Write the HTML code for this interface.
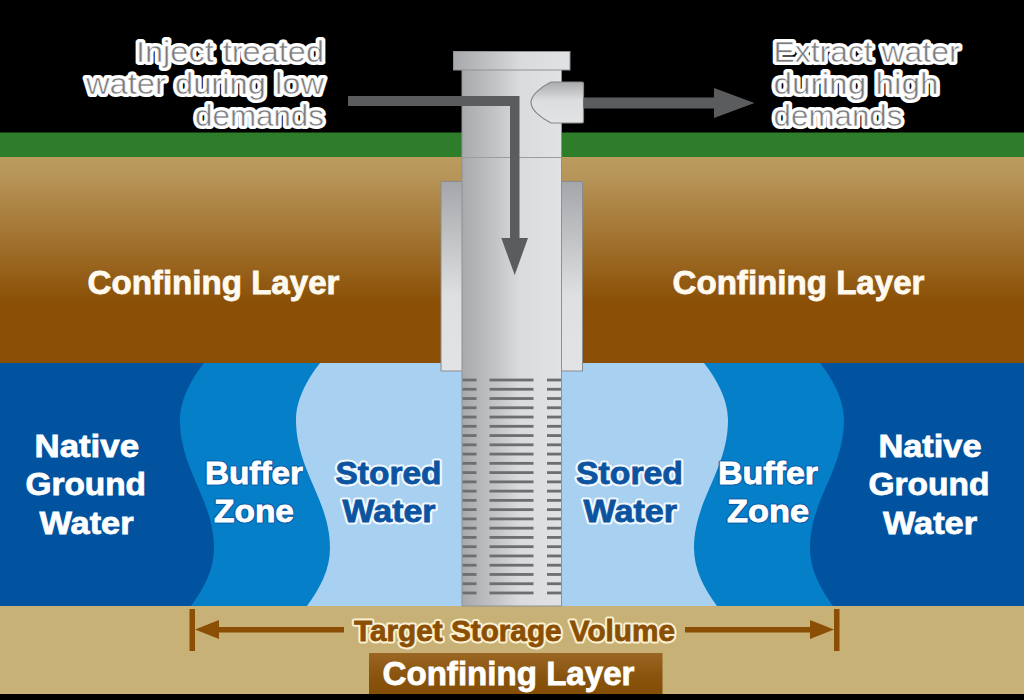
<!DOCTYPE html>
<html>
<head>
<meta charset="utf-8">
<title>Aquifer Storage and Recovery</title>
<style>
html,body{margin:0;padding:0;background:#000;}
body{width:1024px;height:700px;overflow:hidden;font-family:"Liberation Sans",sans-serif;}
svg{display:block;}
text{font-family:"Liberation Sans",sans-serif;}
.b{font-weight:bold;}
</style>
</head>
<body>
<svg width="1024" height="700" viewBox="0 0 1024 700">
<defs>
<linearGradient id="soil" x1="0" y1="0" x2="0" y2="1">
<stop offset="0" stop-color="#bb9b5e"/>
<stop offset="0.08" stop-color="#b8965a"/>
<stop offset="0.7" stop-color="#8b5006"/>
<stop offset="1" stop-color="#8a4f04"/>
</linearGradient>
<linearGradient id="pipe" x1="0" y1="0" x2="1" y2="0">
<stop offset="0" stop-color="#a7a9ac"/>
<stop offset="0.15" stop-color="#b3b5b7"/>
<stop offset="0.35" stop-color="#c4c5c7"/>
<stop offset="0.58" stop-color="#dadbdc"/>
<stop offset="1" stop-color="#e1e2e3"/>
</linearGradient>
<linearGradient id="casing" x1="0" y1="0" x2="0" y2="1">
<stop offset="0" stop-color="#a4a6a9"/>
<stop offset="0.6" stop-color="#dedfe0"/>
<stop offset="1" stop-color="#e2e3e4"/>
</linearGradient>
<linearGradient id="outlet" x1="0" y1="0" x2="0" y2="1">
<stop offset="0" stop-color="#a9abae"/>
<stop offset="0.45" stop-color="#dcddde"/>
<stop offset="1" stop-color="#e2e3e4"/>
</linearGradient>
<linearGradient id="clbox" x1="0" y1="0" x2="0" y2="1">
<stop offset="0" stop-color="#9a6622"/>
<stop offset="0.6" stop-color="#88530c"/>
<stop offset="1" stop-color="#844e07"/>
</linearGradient>
</defs>
<rect x="0" y="0" width="1024" height="700" fill="#000"/>
<!-- grass -->
<rect x="0" y="132.500" width="1024" height="25" fill="#2e7d2b"/>
<!-- soil -->
<rect x="0" y="157" width="1024" height="207" fill="url(#soil)"/>
<!-- water -->
<rect x="0" y="363" width="1024" height="243" fill="#02539f"/>
<!-- buffer zones -->
<path d="M204,363 C193,377 180,398 180,420 C180,470 214,500 214,548 C214,570 204,588 191,606 L833,606 C820,588 810,570 810,548 C810,500 844,470 844,420 C844,398 831,377 820,363 Z" fill="#047fc8"/>
<!-- stored water -->
<path d="M320,363 C309,377 296,398 296,420 C296,470 330,500 330,548 C330,570 320,588 307,606 L717,606 C704,588 694,570 694,548 C694,500 728,470 728,420 C728,398 715,377 704,363 Z" fill="#a8d1f1"/>
<!-- bottom layer -->
<rect x="0" y="606" width="1024" height="88" fill="#c8b177"/>
<rect x="0" y="694" width="1024" height="6" fill="#000"/>

<!-- casing -->
<rect x="441" y="181.500" width="141.500" height="189.500" fill="url(#casing)" stroke="#8a8c8f" stroke-width="1"/>
<!-- main pipe -->
<rect x="462" y="60" width="99.500" height="546" fill="url(#pipe)" stroke="#8f9194" stroke-width="1"/>
<line x1="462" y1="157.500" x2="561.500" y2="157.500" stroke="#9a9c9f" stroke-width="1"/>
<!-- cap -->
<rect x="453.500" y="51.500" width="116.500" height="18.500" fill="url(#pipe)" stroke="#8f9194" stroke-width="1"/>
<!-- slots -->
<g fill="#6d6e71">
<rect x="462.5" y="378.60" width="14" height="2.800"/>
<rect x="489.5" y="378.60" width="44" height="2.800"/>
<rect x="547" y="378.60" width="14" height="2.800"/>
<rect x="462.5" y="387.86" width="14" height="2.800"/>
<rect x="489.5" y="387.86" width="44" height="2.800"/>
<rect x="547" y="387.86" width="14" height="2.800"/>
<rect x="462.5" y="397.12" width="14" height="2.800"/>
<rect x="489.5" y="397.12" width="44" height="2.800"/>
<rect x="547" y="397.12" width="14" height="2.800"/>
<rect x="462.5" y="406.38" width="14" height="2.800"/>
<rect x="489.5" y="406.38" width="44" height="2.800"/>
<rect x="547" y="406.38" width="14" height="2.800"/>
<rect x="462.5" y="415.64" width="14" height="2.800"/>
<rect x="489.5" y="415.64" width="44" height="2.800"/>
<rect x="547" y="415.64" width="14" height="2.800"/>
<rect x="462.5" y="424.90" width="14" height="2.800"/>
<rect x="489.5" y="424.90" width="44" height="2.800"/>
<rect x="547" y="424.90" width="14" height="2.800"/>
<rect x="462.5" y="434.16" width="14" height="2.800"/>
<rect x="489.5" y="434.16" width="44" height="2.800"/>
<rect x="547" y="434.16" width="14" height="2.800"/>
<rect x="462.5" y="443.42" width="14" height="2.800"/>
<rect x="489.5" y="443.42" width="44" height="2.800"/>
<rect x="547" y="443.42" width="14" height="2.800"/>
<rect x="462.5" y="452.68" width="14" height="2.800"/>
<rect x="489.5" y="452.68" width="44" height="2.800"/>
<rect x="547" y="452.68" width="14" height="2.800"/>
<rect x="462.5" y="461.94" width="14" height="2.800"/>
<rect x="489.5" y="461.94" width="44" height="2.800"/>
<rect x="547" y="461.94" width="14" height="2.800"/>
<rect x="462.5" y="471.20" width="14" height="2.800"/>
<rect x="489.5" y="471.20" width="44" height="2.800"/>
<rect x="547" y="471.20" width="14" height="2.800"/>
<rect x="462.5" y="480.46" width="14" height="2.800"/>
<rect x="489.5" y="480.46" width="44" height="2.800"/>
<rect x="547" y="480.46" width="14" height="2.800"/>
<rect x="462.5" y="489.72" width="14" height="2.800"/>
<rect x="489.5" y="489.72" width="44" height="2.800"/>
<rect x="547" y="489.72" width="14" height="2.800"/>
<rect x="462.5" y="498.98" width="14" height="2.800"/>
<rect x="489.5" y="498.98" width="44" height="2.800"/>
<rect x="547" y="498.98" width="14" height="2.800"/>
<rect x="462.5" y="508.24" width="14" height="2.800"/>
<rect x="489.5" y="508.24" width="44" height="2.800"/>
<rect x="547" y="508.24" width="14" height="2.800"/>
<rect x="462.5" y="517.50" width="14" height="2.800"/>
<rect x="489.5" y="517.50" width="44" height="2.800"/>
<rect x="547" y="517.50" width="14" height="2.800"/>
<rect x="462.5" y="526.76" width="14" height="2.800"/>
<rect x="489.5" y="526.76" width="44" height="2.800"/>
<rect x="547" y="526.76" width="14" height="2.800"/>
<rect x="462.5" y="536.02" width="14" height="2.800"/>
<rect x="489.5" y="536.02" width="44" height="2.800"/>
<rect x="547" y="536.02" width="14" height="2.800"/>
<rect x="462.5" y="545.28" width="14" height="2.800"/>
<rect x="489.5" y="545.28" width="44" height="2.800"/>
<rect x="547" y="545.28" width="14" height="2.800"/>
<rect x="462.5" y="554.54" width="14" height="2.800"/>
<rect x="489.5" y="554.54" width="44" height="2.800"/>
<rect x="547" y="554.54" width="14" height="2.800"/>
<rect x="462.5" y="563.80" width="14" height="2.800"/>
<rect x="489.5" y="563.80" width="44" height="2.800"/>
<rect x="547" y="563.80" width="14" height="2.800"/>
<rect x="462.5" y="573.06" width="14" height="2.800"/>
<rect x="489.5" y="573.06" width="44" height="2.800"/>
<rect x="547" y="573.06" width="14" height="2.800"/>
<rect x="462.5" y="582.32" width="14" height="2.800"/>
<rect x="489.5" y="582.32" width="44" height="2.800"/>
<rect x="547" y="582.32" width="14" height="2.800"/>
<rect x="462.5" y="591.58" width="14" height="2.800"/>
<rect x="489.5" y="591.58" width="44" height="2.800"/>
<rect x="547" y="591.58" width="14" height="2.800"/>
</g>
<!-- outlet -->
<path d="M582,82 Q583.500,82 583.500,83.500 L583.500,121.500 Q583.500,123 582,123 L551,123 C541,118 531,110 531,102.500 C531,95 541,87 551,82 Z" fill="url(#outlet)" stroke="#85878a" stroke-width="1.200"/>
<!-- inject arrow -->
<path d="M348,96 L519.500,96 L519.500,238 L528,238 L514.700,275 L501.300,238 L510,238 L510,106 L348,106 Z" fill="#5b5c5e"/>
<!-- extract arrow -->
<path d="M583.500,97.500 L714,97.500 L714,88 L754.500,103 L714,118 L714,108.500 L583.500,108.500 Z" fill="#5b5c5e"/>

<!-- bottom arrows -->
<g fill="#8a4f05">
<rect x="189.500" y="609" width="5.500" height="42"/>
<rect x="834" y="609" width="5.500" height="42"/>
<path d="M195,629.500 L219,620 L219,627 L344,627 L344,632.500 L219,632.500 L219,639 Z"/>
<path d="M834,629.500 L810,620 L810,627 L685,627 L685,632.500 L810,632.500 L810,639 Z"/>
</g>
<rect x="369" y="653" width="293.500" height="41" fill="url(#clbox)"/>

<!-- texts -->
<g font-size="29" fill="#ffffff" stroke="#ffffff" stroke-width="6" stroke-linejoin="round">
<text x="324" y="61.800" text-anchor="end" textLength="188" lengthAdjust="spacingAndGlyphs">Inject treated</text>
<text x="324" y="93.800" text-anchor="end" textLength="238" lengthAdjust="spacingAndGlyphs">water during low</text>
<text x="324" y="125.800" text-anchor="end" textLength="129" lengthAdjust="spacingAndGlyphs">demands</text>
<text x="773.500" y="61.800" textLength="186" lengthAdjust="spacingAndGlyphs">Extract water</text>
<text x="773.500" y="93.800" textLength="165" lengthAdjust="spacingAndGlyphs">during high</text>
<text x="773.500" y="125.800" textLength="129" lengthAdjust="spacingAndGlyphs">demands</text>
</g>
<g font-size="29" fill="#7b7c7e" stroke="#ffffff" stroke-width="0.5">
<text x="324" y="61.800" text-anchor="end" textLength="188" lengthAdjust="spacingAndGlyphs">Inject treated</text>
<text x="324" y="93.800" text-anchor="end" textLength="238" lengthAdjust="spacingAndGlyphs">water during low</text>
<text x="324" y="125.800" text-anchor="end" textLength="129" lengthAdjust="spacingAndGlyphs">demands</text>
<text x="773.500" y="61.800" textLength="186" lengthAdjust="spacingAndGlyphs">Extract water</text>
<text x="773.500" y="93.800" textLength="165" lengthAdjust="spacingAndGlyphs">during high</text>
<text x="773.500" y="125.800" textLength="129" lengthAdjust="spacingAndGlyphs">demands</text>
</g>

<g class="b" font-size="33.500" fill="#fffaf0" stroke="#fffaf0" stroke-width="0.800">
<text x="87.5" y="294.1" textLength="252" lengthAdjust="spacingAndGlyphs">Confining Layer</text>
<text x="672.5" y="294.1" textLength="252" lengthAdjust="spacingAndGlyphs">Confining Layer</text>
</g>

<g class="b" font-size="31" fill="#ffffff" stroke="#ffffff" stroke-width="0.800">
<text x="34.5" y="456.5" textLength="104.5" lengthAdjust="spacingAndGlyphs">Native</text>
<text x="25.5" y="495.2" textLength="120.5" lengthAdjust="spacingAndGlyphs">Ground</text>
<text x="39.5" y="533.5" textLength="94" lengthAdjust="spacingAndGlyphs">Water</text>
<text x="878.5" y="456.5" textLength="103" lengthAdjust="spacingAndGlyphs">Native</text>
<text x="868.5" y="495.2" textLength="121" lengthAdjust="spacingAndGlyphs">Ground</text>
<text x="883" y="533.5" textLength="94" lengthAdjust="spacingAndGlyphs">Water</text>
</g>
<g class="b" font-size="31" fill="#0a5aa6" stroke="#0a5aa6" stroke-width="3" stroke-linejoin="round">
<text x="205" y="484" textLength="98" lengthAdjust="spacingAndGlyphs">Buffer</text>
<text x="214" y="522" textLength="80" lengthAdjust="spacingAndGlyphs">Zone</text>
<text x="718" y="484" textLength="100" lengthAdjust="spacingAndGlyphs">Buffer</text>
<text x="727" y="522" textLength="82" lengthAdjust="spacingAndGlyphs">Zone</text>
</g>
<g class="b" font-size="31" fill="#ffffff" stroke="#ffffff" stroke-width="0.800">
<text x="205" y="484" textLength="98" lengthAdjust="spacingAndGlyphs">Buffer</text>
<text x="214" y="522" textLength="80" lengthAdjust="spacingAndGlyphs">Zone</text>
<text x="718" y="484" textLength="100" lengthAdjust="spacingAndGlyphs">Buffer</text>
<text x="727" y="522" textLength="82" lengthAdjust="spacingAndGlyphs">Zone</text>
</g>
<g class="b" font-size="31" fill="#f0f8fe" stroke="#f0f8fe" stroke-width="5" stroke-linejoin="round">
<text x="335.5" y="484" textLength="106" lengthAdjust="spacingAndGlyphs">Stored</text>
<text x="342.5" y="522" textLength="93" lengthAdjust="spacingAndGlyphs">Water</text>
<text x="576" y="484" textLength="107" lengthAdjust="spacingAndGlyphs">Stored</text>
<text x="583.5" y="522" textLength="93.5" lengthAdjust="spacingAndGlyphs">Water</text>
</g>
<g class="b" font-size="31" fill="#0c53a0" stroke="#0c53a0" stroke-width="0.800">
<text x="335.5" y="484" textLength="106" lengthAdjust="spacingAndGlyphs">Stored</text>
<text x="342.5" y="522" textLength="93" lengthAdjust="spacingAndGlyphs">Water</text>
<text x="576" y="484" textLength="107" lengthAdjust="spacingAndGlyphs">Stored</text>
<text x="583.5" y="522" textLength="93.5" lengthAdjust="spacingAndGlyphs">Water</text>
</g>
<g class="b" font-size="30" fill="#fbf0cf" stroke="#fbf0cf" stroke-width="5" stroke-linejoin="round">
<text x="354" y="641" textLength="321" lengthAdjust="spacingAndGlyphs">Target Storage Volume</text>
</g>
<g class="b" font-size="30" fill="#8a4f05" stroke="#8a4f05" stroke-width="0.800">
<text x="354" y="641" textLength="321" lengthAdjust="spacingAndGlyphs">Target Storage Volume</text>
</g>
<g class="b" font-size="34" fill="#ffffff" stroke="#ffffff" stroke-width="0.800">
<text x="382.5" y="685" textLength="252" lengthAdjust="spacingAndGlyphs">Confining Layer</text>
</g>
</svg>

</body>
</html>
